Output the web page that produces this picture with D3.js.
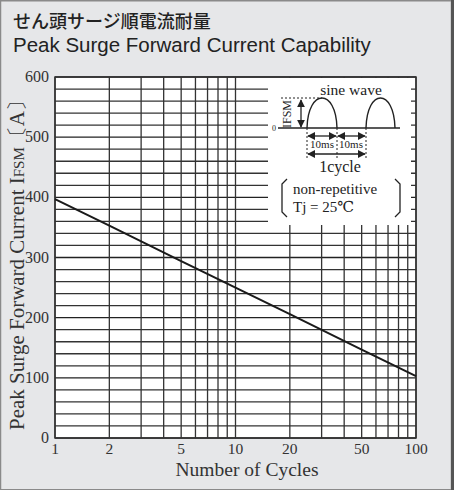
<!DOCTYPE html>
<html><head><meta charset="utf-8">
<script src="https://cdn.jsdelivr.net/npm/d3@7"></script>
<style>
html,body{margin:0;padding:0;background:#fff;}
svg{display:block;}
</style></head>
<body>
<svg id="chart" width="454" height="490"></svg>
<script>
const cycles = [1, 2, 5, 10, 20, 50, 100];
const currentA = [397, 353, 294, 250, 206, 147, 103];
const xTickValues = [1, 2, 5, 10, 20, 50, 100];
const xGridValues = [1,2,3,4,5,6,7,8,9,10,20,30,40,50,60,70,80,90,100];
const yTickValues = [0, 100, 200, 300, 400, 500, 600];
const yGridValues = d3.range(0, 601, 20);
const titleJa = "せん頭サージ順電流耐量";
const titleEn = "Peak Surge Forward Current Capability";
const xTitle = "Number of Cycles";

const svg = d3.select("#chart");
const W = 454, H = 490;
const serif = "'Liberation Serif','DejaVu Serif',serif";

// panel
svg.append("rect").attr("x",0).attr("y",0).attr("width",W).attr("height",H).attr("fill","#e6e7e9");
svg.append("rect").attr("x",0.5).attr("y",0.75).attr("width",451).attr("height",489).attr("fill","none").attr("stroke","#8a8a8a").attr("stroke-width",1.5);
svg.append("line").attr("x1",452.5).attr("x2",452.5).attr("y1",0).attr("y2",H).attr("stroke","#555").attr("stroke-width",3);

svg.append("text").attr("x",13).attr("y",28).attr("font-family","'Noto Sans CJK JP',sans-serif").attr("font-size",18).attr("font-weight",500).attr("fill","#222").text(titleJa);
svg.append("text").attr("x",13).attr("y",52).attr("font-family","'Liberation Sans',Arial,sans-serif").attr("font-size",20.5).attr("fill","#222").text(titleEn);

const m = {l:55, r:416, t:77, b:438};
const x = d3.scaleLog().domain([1,100]).range([m.l, m.r]);
const y = d3.scaleLinear().domain([0,600]).range([m.b, m.t]);

svg.append("rect").attr("x",m.l).attr("y",m.t).attr("width",m.r-m.l).attr("height",m.b-m.t).attr("fill","#fff");

// grid
svg.append("g").selectAll("line").data(yGridValues).join("line")
  .attr("x1",m.l).attr("x2",m.r).attr("y1",d=>y(d)).attr("y2",d=>y(d))
  .attr("stroke", d=> d%100===0 ? "#222" : "#333").attr("stroke-width",1.3);
svg.append("g").selectAll("line").data(xGridValues).join("line")
  .attr("y1",m.t).attr("y2",m.b).attr("x1",d=>x(d)).attr("x2",d=>x(d))
  .attr("stroke","#333").attr("stroke-width",1.3);

// inset box
const bx = 268, by = 78, bw = 143, bh = 147;
const ins = svg.append("g").attr("transform",`translate(${bx},${by})`);
ins.append("rect").attr("x",0).attr("y",0).attr("width",bw).attr("height",bh).attr("fill","#fff");
const ink = "#222";
const base = 50;
ins.append("line").attr("x1",10).attr("x2",132).attr("y1",base).attr("y2",base).attr("stroke",ink).attr("stroke-width",1.4);
ins.append("text").attr("x",4).attr("y",base+3).attr("font-family",serif).attr("font-size",8).attr("fill",ink).text("0");
const hump = (x0,x1) => `M${x0},${base} C${x0+1},${base-40} ${x1-1},${base-40} ${x1},${base}`;
ins.append("path").attr("d",hump(39,69)).attr("fill","none").attr("stroke",ink).attr("stroke-width",1.4);
ins.append("path").attr("d",hump(98,127)).attr("fill","none").attr("stroke",ink).attr("stroke-width",1.4);
ins.append("line").attr("x1",13).attr("x2",54).attr("y1",20).attr("y2",20).attr("stroke",ink).attr("stroke-dasharray","2,2");
[39,69,98].forEach(xx=>ins.append("line").attr("x1",xx).attr("x2",xx).attr("y1",base).attr("y2",80).attr("stroke",ink).attr("stroke-dasharray","2,2"));
const defs = svg.append("defs");
defs.append("marker").attr("id","ah").attr("viewBox","0 0 10 10").attr("refX",9).attr("refY",5)
  .attr("markerWidth",6).attr("markerHeight",6).attr("orient","auto-start-reverse")
  .append("path").attr("d","M0,0 L10,5 L0,10 Z").attr("fill",ink);
const arrow = (x1,y1,x2,y2)=>ins.append("line").attr("x1",x1).attr("y1",y1).attr("x2",x2).attr("y2",y2)
  .attr("stroke",ink).attr("stroke-width",1.3).attr("marker-start","url(#ah)").attr("marker-end","url(#ah)");
arrow(33,22,33,49);
arrow(40,58,68,58);
arrow(70,58,97,58);
arrow(40,76,97,76);
ins.append("text").attr("transform","translate(23,50) rotate(-90)").attr("font-family",serif).attr("font-size",12).attr("fill",ink).text("IFSM");
ins.append("text").attr("x",83).attr("y",17).attr("text-anchor","middle").attr("font-family",serif).attr("font-size",15.5).attr("fill",ink).text("sine wave");
ins.append("text").attr("x",54).attr("y",70).attr("text-anchor","middle").attr("font-family",serif).attr("font-size",11).attr("fill",ink).text("10ms");
ins.append("text").attr("x",83).attr("y",70).attr("text-anchor","middle").attr("font-family",serif).attr("font-size",11).attr("fill",ink).text("10ms");
ins.append("text").attr("x",72).attr("y",94).attr("text-anchor","middle").attr("font-family",serif).attr("font-size",16).attr("fill",ink).text("1cycle");
ins.append("path").attr("d","M19,101 L14,106 L14,134 L19,139").attr("fill","none").attr("stroke",ink).attr("stroke-width",1.3);
ins.append("path").attr("d","M127,101 L132,106 L132,134 L127,139").attr("fill","none").attr("stroke",ink).attr("stroke-width",1.3);
ins.append("text").attr("x",25).attr("y",116).attr("font-family",serif).attr("font-size",15).attr("fill",ink).text("non-repetitive");
ins.append("text").attr("x",25).attr("y",134).attr("font-family",serif).attr("font-size",15).attr("fill",ink).text("Tj = 25℃");

// plot border
svg.append("rect").attr("x",m.l).attr("y",m.t).attr("width",m.r-m.l).attr("height",m.b-m.t).attr("fill","none").attr("stroke","#333").attr("stroke-width",1.5);

// data line
svg.append("path").datum(cycles.map((c,i)=>[c,currentA[i]]))
  .attr("d", d3.line().x(d=>x(d[0])).y(d=>y(d[1])))
  .attr("fill","none").attr("stroke","#1a1a1a").attr("stroke-width",2);

// axes labels
svg.append("g").selectAll("text").data(yTickValues).join("text")
  .attr("x",49).attr("y",d=>y(d)+5).attr("text-anchor","end")
  .attr("font-family",serif).attr("font-size",16).attr("fill","#333").text(d=>d);
svg.append("g").selectAll("text").data(xTickValues).join("text")
  .attr("x",d=>x(d)).attr("y",454).attr("text-anchor","middle")
  .attr("font-family",serif).attr("font-size",15.5).attr("fill","#333").text(d=>d);
svg.append("text").attr("x",247).attr("y",476).attr("text-anchor","middle")
  .attr("font-family",serif).attr("font-size",19.5).attr("fill","#333").text(xTitle);
const yt = svg.append("text").attr("transform","translate(24,260) rotate(-90)").attr("text-anchor","middle")
  .attr("font-family",serif).attr("font-size",21).attr("fill","#333");
yt.append("tspan").text("Peak Surge Forward Current I");
yt.append("tspan").attr("font-size",15).text("FSM");
yt.append("tspan").text("〔A〕");
</script>
</body></html>
